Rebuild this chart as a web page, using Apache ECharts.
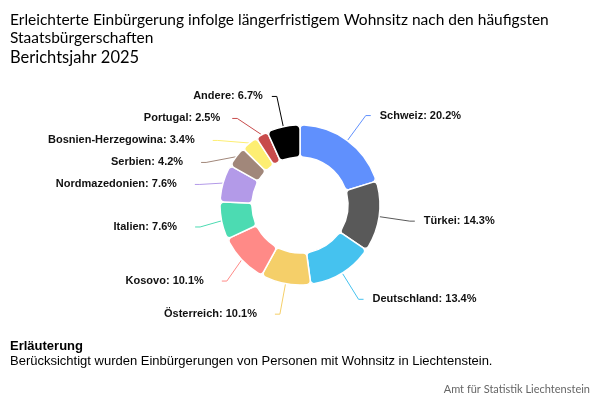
<!DOCTYPE html>
<html><head><meta charset="utf-8">
<script src="https://cdn.jsdelivr.net/npm/echarts@6/dist/echarts.min.js"></script>
<style>html,body{margin:0;padding:0;background:#fff}#c{width:600px;height:400px}</style>
</head><body><div id="c"></div>
<script>
const categories = ['Schweiz','Türkei','Deutschland','Österreich','Kosovo','Italien','Nordmazedonien','Serbien','Bosnien-Herzegowina','Portugal','Andere'];
const values = [20.2,14.3,13.4,10.1,10.1,7.6,7.6,4.2,3.4,2.5,6.7];
const colors = ['#6090fd','#595959','#45c2ef','#f5cf69','#ff8a87','#4cdbb2','#b39ae8','#a1877a','#fdee72','#c84b4b','#000000'];

const labelPad = {Portugal:[0,3,0,0], Andere:[0,0,0,0]};

const chart = echarts.init(document.getElementById('c'));
chart.setOption({
  animation:false,
  color: colors,
  title:[
    {text:'Erleichterte Einbürgerung infolge längerfristigem Wohnsitz nach den häufigsten\nStaatsbürgerschaften', left:10, top:11, padding:0,
     textStyle:{fontFamily:'Lato', fontSize:15.5, fontWeight:'normal', color:'#000', lineHeight:18}},
    {text:'Berichtsjahr 2025', left:10, top:49, padding:0, textStyle:{fontFamily:'Lato', fontSize:16.5, fontWeight:'normal', color:'#000'}},
    {text:'Erläuterung', left:10, top:340, padding:0, textStyle:{fontFamily:'Liberation Sans', fontSize:13, fontWeight:'bold', color:'#000'}},
    {text:'Berücksichtigt wurden Einbürgerungen von Personen mit Wohnsitz in Liechtenstein.', left:10, top:355, padding:0, textStyle:{fontFamily:'Liberation Sans', fontSize:13, fontWeight:'normal', color:'#000'}},
    {text:'Amt für Statistik Liechtenstein', right:10, top:384, padding:0, textStyle:{fontFamily:'Lato', fontSize:11, fontWeight:'normal', color:'#666'}}
  ],
  series:[{
    type:'pie',
    center:[300,205],
    radius:[48,80],
    startAngle:90,
    clockwise:true,
    avoidLabelOverlap:true,
    itemStyle:{borderColor:'#fff', borderWidth:1.5, borderRadius:4},
    label:{show:true, formatter:'{b}: {c}%', fontFamily:'Liberation Sans', fontSize:11, fontWeight:'bold', color:'#111', lineHeight:20, padding:[0,9,0,0], distanceToLabelLine:9},
    labelLine:{show:true, length:31, length2:5},
    data: categories.map((c,i)=>{
      const d = {name:c, value:values[i]};
      if (labelPad[c]) d.label = {padding: labelPad[c]};
      return d;
    })
  }]
});
</script></body></html>
